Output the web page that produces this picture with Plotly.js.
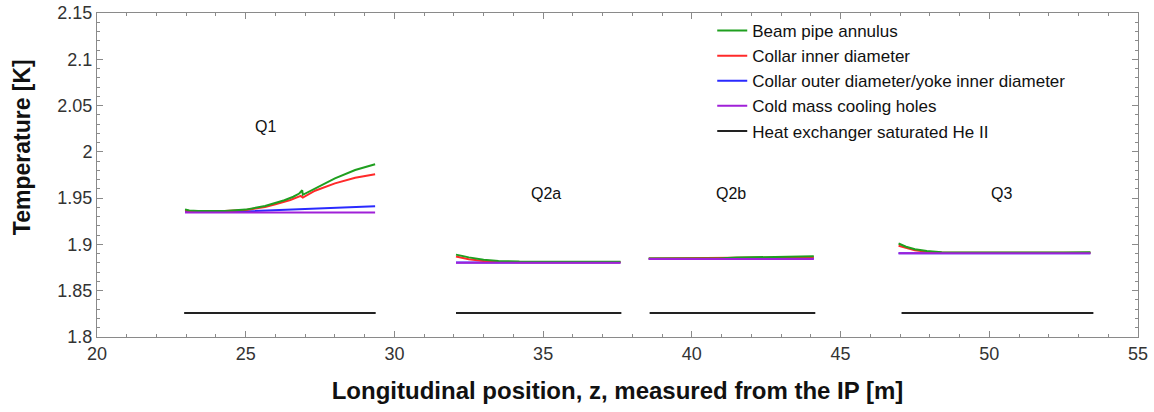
<!DOCTYPE html>
<html>
<head>
<meta charset="utf-8">
<script src="https://cdn.plot.ly/plotly-3.0.1.min.js"></script>
<style>html,body{margin:0;padding:0;background:#fff;}#chart{width:1154px;height:412px;}</style>
</head>
<body>
<div id="chart"></div>
<script>
// Longitudinal position z [m] and temperature [K]; null separates magnets (Q1, Q2a, Q2b, Q3)
const beamZ = [22.96,23.1,23.4,24.3,25.0,25.65,26.3,26.6,26.8,26.9,26.92,27.33,28.0,28.68,29.35, null,
               32.07,32.5,33.0,33.5,34.2,37.6, null,
               38.55,40.9,41.5,42.5,44.1, null,
               46.95,47.2,47.5,47.9,48.4,50.0,52.5,53.4];
const beamT = [1.9379,1.9366,1.9361,1.9362,1.9376,1.9415,1.9478,1.9515,1.9550,1.9585,1.9536,1.9606,1.9714,1.9804,1.9867, null,
               1.8890,1.8860,1.8835,1.8822,1.8815,1.8812, null,
               1.8848,1.8849,1.8858,1.8866,1.8872, null,
               1.9010,1.8975,1.8948,1.8928,1.8916,1.8912,1.8912,1.8916];

const collarInZ = [22.96,23.1,23.4,24.3,25.0,25.65,26.0,26.5,26.85,26.92,27.33,28.0,28.68,29.35, null,
                   32.07,32.5,33.0,33.5,34.2,37.6, null,
                   38.55,41.5,44.1, null,
                   46.95,47.2,47.5,47.9,48.4,53.4];
const collarInT = [1.9368,1.9360,1.9358,1.9360,1.9372,1.9405,1.9435,1.9480,1.9524,1.9506,1.9580,1.9660,1.9720,1.9757, null,
                   1.8870,1.8840,1.8820,1.8810,1.8808,1.8808, null,
                   1.8847,1.8852,1.8862, null,
                   1.8985,1.8960,1.8938,1.8922,1.8912,1.8910];

const collarOutZ = [22.96,24.0,25.0,26.0,27.0,28.0,29.35, null,
                    32.07,37.6, null,
                    38.55,44.1, null,
                    46.95,53.4];
const collarOutT = [1.9355,1.9352,1.9358,1.9372,1.9385,1.9398,1.9412, null,
                    1.8805,1.8805, null,
                    1.8845,1.8848, null,
                    1.8906,1.8906];

const holesZ = [22.96,29.35, null, 32.07,37.6, null, 38.55,44.1, null, 46.95,53.4];
const holesT = [1.9345,1.9345, null, 1.8802,1.8802, null, 1.8843,1.8843, null, 1.8904,1.8904];

const heZ = [22.93,29.37, null, 32.07,37.63, null, 38.58,44.15, null, 47.05,53.5];
const heT = [1.826,1.826, null, 1.826,1.826, null, 1.826,1.826, null, 1.826,1.826];

const seriesNames = ["Beam pipe annulus","Collar inner diameter","Collar outer diameter/yoke inner diameter","Cold mass cooling holes","Heat exchanger saturated He II"];

const magnetLabels = ["Q1","Q2a","Q2b","Q3"];
const magnetLabelZ = [25.65, 35.1, 41.3, 50.4];
const magnetLabelT = [2.027, 1.955, 1.955, 1.955];

const xTickVals = [20,25,30,35,40,45,50,55];
const yTickVals = [1.8,1.85,1.9,1.95,2,2.05,2.1,2.15];
const yTickText = ["1.8","1.85","1.9","1.95","2","2.05","2.1","2.15"];

const xTitle = "Longitudinal position, z, measured from the IP [m]";
const yTitle = "Temperature [K]";

const FONT = "Arial, 'Liberation Sans', sans-serif";
function tr(x, y, name, color, rank) {
  return {x: x, y: y, name: name, type: 'scatter', mode: 'lines', connectgaps: false,
          line: {color: color, width: 2}, legendrank: rank};
}
const data = [
  tr(collarOutZ, collarOutT, seriesNames[2], '#2a2aff', 3),
  tr(collarInZ, collarInT, seriesNames[1], '#ff2a2a', 2),
  tr(beamZ, beamT, seriesNames[0], '#1f9f1f', 1),
  tr(holesZ, holesT, seriesNames[3], '#a020d8', 4),
  tr(heZ, heT, seriesNames[4], '#222222', 5)
];

const annotations = magnetLabels.map((t, i) => ({
  x: magnetLabelZ[i], y: magnetLabelT[i], xref: 'x', yref: 'y', text: t, showarrow: false,
  font: {family: FONT, size: 16, color: '#111'}
}));
annotations.push({
  x: -0.072, y: 0.586, xref: 'paper', yref: 'paper', xanchor: 'center', yanchor: 'middle',
  text: yTitle, textangle: -90, showarrow: false,
  font: {family: FONT, size: 23, color: '#111', weight: 'bold'}
});

const axisCommon = {
  showgrid: false, zeroline: false, showline: true, linecolor: '#8a8a8a', linewidth: 1,
  mirror: 'ticks', ticks: 'inside', ticklen: 6, tickcolor: '#8a8a8a', tickwidth: 1,
  tickfont: {family: FONT, size: 18, color: '#333'}
};

const layout = {
  width: 1154, height: 412,
  margin: {l: 97, r: 16, t: 13, b: 75},
  paper_bgcolor: '#fff', plot_bgcolor: '#fff',
  showlegend: true,
  legend: {x: 0.591, y: 1.0, xanchor: 'left', yanchor: 'top', bgcolor: 'rgba(0,0,0,0)',
           font: {family: FONT, size: 17, color: '#111'}, tracegroupgap: 0, itemwidth: 30},
  xaxis: Object.assign({}, axisCommon, {
    range: [20, 55], tickvals: xTickVals,
    minor: {dtick: 1, ticks: 'inside', ticklen: 3, tickcolor: '#8a8a8a', tickwidth: 1},
    title: {text: xTitle, standoff: 19,
            font: {family: FONT, size: 24, color: '#111', weight: 'bold'}}
  }),
  yaxis: Object.assign({}, axisCommon, {
    range: [1.8, 2.15], tickvals: yTickVals, ticktext: yTickText,
    minor: {dtick: 0.01, ticks: 'inside', ticklen: 3, tickcolor: '#8a8a8a', tickwidth: 1}
  }),
  annotations: annotations
};

Plotly.newPlot('chart', data, layout, {displayModeBar: false, staticPlot: true});
</script>
</body>
</html>
